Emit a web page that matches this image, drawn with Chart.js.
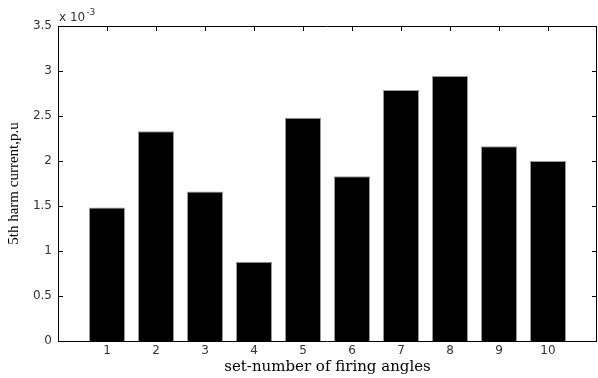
<!DOCTYPE html>
<html>
<head>
<meta charset="utf-8">
<script src="https://cdn.jsdelivr.net/npm/chart.js@4/dist/chart.umd.min.js"></script>
<style>
  html, body { margin: 0; padding: 0; background: #fff; }
  #wrap { width: 598px; height: 378px; }
</style>
</head>
<body>
<div id="wrap"><canvas id="harmChart" width="598" height="378"></canvas></div>
<script>
// values (p.u.)
var setNumbers  = [1, 2, 3, 4, 5, 6, 7, 8, 9, 10];
var harmCurrent = [1.484e-3, 2.33e-3, 1.66e-3, 0.88e-3, 2.48e-3, 1.83e-3, 2.79e-3, 2.945e-3, 2.165e-3, 2.0e-3];
var yTicks      = [0, 0.5e-3, 1e-3, 1.5e-3, 2e-3, 2.5e-3, 3e-3, 3.5e-3];

var tickFont = { family: 'DejaVu Sans', size: 12 };
var tickCol  = '#333';

/* frame + inward ticks on all four sides, matlab style */
var matlabBox = {
  id: 'matlabBox',
  afterDraw: function (chart) {
    var ctx = chart.ctx, a = chart.chartArea;
    var xs = chart.scales.x, ys = chart.scales.y;
    var tl = 5;
    ctx.save();
    ctx.strokeStyle = '#000';
    ctx.lineWidth = 1;
    ctx.beginPath();
    ctx.rect(Math.round(a.left) + 0.5, Math.round(a.top) + 0.5,
             Math.round(a.right - a.left) - 1, Math.round(a.bottom - a.top));
    setNumbers.forEach(function (n) {
      var px = Math.round(xs.getPixelForValue(n)) + 0.5;
      ctx.moveTo(px, a.bottom); ctx.lineTo(px, a.bottom - tl);
      ctx.moveTo(px, a.top);    ctx.lineTo(px, a.top + tl);
    });
    yTicks.forEach(function (v) {
      var py = Math.round(ys.getPixelForValue(v)) + 0.5;
      ctx.moveTo(a.left, py);  ctx.lineTo(a.left + tl, py);
      ctx.moveTo(a.right, py); ctx.lineTo(a.right - tl, py);
    });
    ctx.stroke();

    // exponent label above the axis
    ctx.fillStyle = tickCol;
    ctx.textBaseline = 'alphabetic';
    ctx.font = '12px "DejaVu Sans"';
    ctx.fillText('x 10', a.left + 1, a.top - 5);
    var w = ctx.measureText('x 10').width;
    ctx.font = '9px "DejaVu Sans"';
    ctx.fillText('-3', a.left + 1 + w + 1, a.top - 11);
    ctx.restore();
  }
};

new Chart(document.getElementById('harmChart'), {
  type: 'bar',
  data: {
    datasets: [{
      data: setNumbers.map(function (n, i) { return { x: n, y: harmCurrent[i] }; }),
      backgroundColor: '#000',
      borderColor: '#9a9a9a',
      borderWidth: 1,
      categoryPercentage: 1,
      barPercentage: 0.735
    }]
  },
  options: {
    responsive: false,
    animation: false,
    layout: { padding: { top: 26, right: 1, left: 0, bottom: 0 } },
    plugins: { legend: { display: false }, tooltip: { enabled: false } },
    scales: {
      x: {
        type: 'linear',
        offset: false,
        min: 0, max: 11,
        afterFit: function (s) { s.height = 37; },
        afterBuildTicks: function (s) { s.ticks = setNumbers.map(function (n) { return { value: n }; }); },
        grid: { display: false, drawTicks: false, offset: false },
        border: { display: false },
        ticks: { color: tickCol, font: tickFont, padding: 3, autoSkip: false, maxRotation: 0 },
        title: {
          display: true, text: 'set-number of firing angles', color: '#000',
          font: { family: 'DejaVu Serif', size: 15 }, padding: { top: 0, bottom: 2 }
        }
      },
      y: {
        min: 0, max: 3.5e-3,
        afterFit: function (s) { s.width = 58; },
        afterBuildTicks: function (s) { s.ticks = yTicks.map(function (v) { return { value: v }; }); },
        grid: { display: false, drawTicks: false },
        border: { display: false },
        ticks: {
          color: tickCol, font: tickFont, padding: 6,
          callback: function (v) { return String(Math.round(v * 1e4) / 10); }
        },
        title: {
          display: true, text: '5th harm current,p.u', color: '#000',
          font: { family: 'Liberation Serif', size: 15 }, padding: { top: 5, bottom: 0 }
        }
      }
    }
  },
  plugins: [matlabBox]
});
</script>
</body>
</html>
